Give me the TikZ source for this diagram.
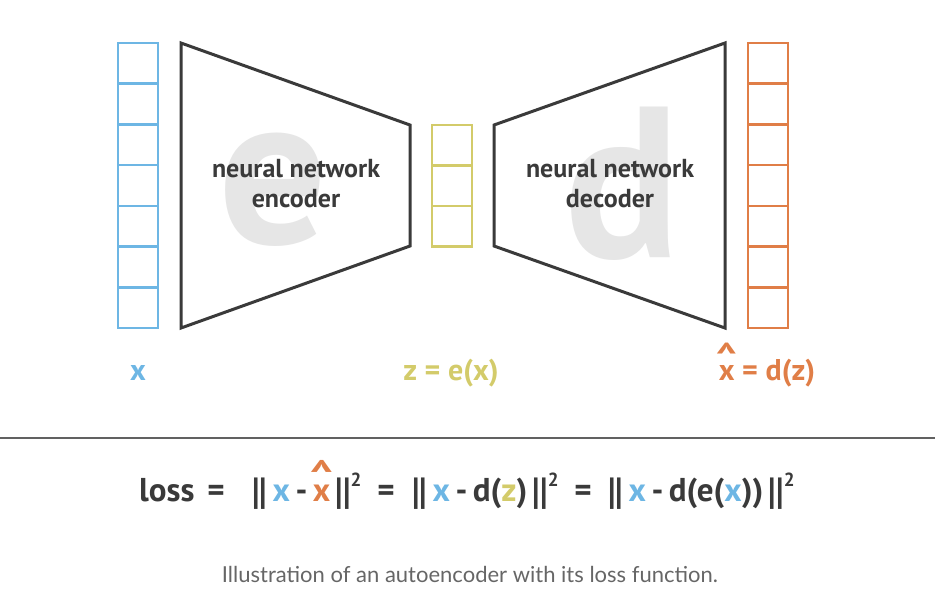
\documentclass[tikz,border=0pt]{standalone}
\usepackage{fontspec}
\usepackage{graphicx}
\setmainfont{PT Sans}
\newfontfamily\capfont{Lato}
\definecolor{cb}{HTML}{6DB6E4}
\definecolor{cy}{HTML}{D3CB6A}
\definecolor{co}{HTML}{E07E47}
\definecolor{ink}{HTML}{3A3A3A}
\definecolor{ghost}{HTML}{E6E6E6}
\newcommand\xh{\ooalign{x\cr\hidewidth\raisebox{0.36em}{\scalebox{1.4}[1.25]{\textasciicircum}}\hidewidth\cr}}
\newcommand\bars{\raisebox{-0.12em}{\scalebox{1}[1.15]{||}}}
\tikzset{
  cell/.style={line width=2.6pt},
  trap/.style={draw=ink, line width=3pt, line join=miter},
  big/.style={text=ghost, font=\bfseries\fontsize{215}{215}\selectfont, inner sep=0pt, anchor=base},
  nn/.style={text=ink, font=\bfseries\fontsize{26}{30}\selectfont, align=center, inner sep=0pt, anchor=base},
  lab/.style={font=\bfseries\fontsize{30}{34}\selectfont, inner sep=0pt, anchor=base},
  lossf/.style={inner sep=0pt, text=ink, font=\bfseries\fontsize{33}{38}\selectfont},
}
\begin{document}
\begin{tikzpicture}[x=1pt,y=-1pt]
\useasboundingbox (0,0) rectangle (948,590);
% ghost letters
\node[big] (ge) at (273,243) {e};
\node[big] (gd) at (622,257) {d};
% trapezoids
\draw[trap] (181,43) -- (410,125) -- (410,246) -- (181,328) -- cycle;
\draw[trap] (494,125) -- (725,43) -- (725,328) -- (494,246) -- cycle;
% columns
\foreach \i in {0,...,6} {
  \draw[cell, draw=cb] (118,{43+\i*40.7143}) rectangle (158,{43+(\i+1)*40.7143});
  \draw[cell, draw=co] (748,{43+\i*40.7143}) rectangle (788,{43+(\i+1)*40.7143});
}
\foreach \i in {0,...,2} {
  \draw[cell, draw=cy] (432,{125+\i*40.5}) rectangle (472,{125+(\i+1)*40.5});
}
% network texts
\node[nn] (enc1) at (296,177) {neural network};
\node[nn] (enc2) at (296,207) {encoder};
\node[nn] (dec1) at (610,177) {neural network};
\node[nn] (dec2) at (610,207) {decoder};
% labels
\node[lab, text=cb] (lx) at (138,380) {x};
\node[lab, text=cy] (lz) at (451,380) {z = e(x)};
\node[lab, text=co] (lxh) at (767,380) {\xh\ = d(z)};
% rule
\draw[draw=ink!80, line width=1.3pt] (0,438) coordinate (r1) -- (935,438) coordinate (r2);
% loss
\node[lossf, anchor=base west] (loss) at (139,501) {loss};
\node[lossf, anchor=base] (eq1) at (216,501) {=};
\node[lossf, anchor=base west] (g1) at (252,501) {\bars\,\textcolor{cb}{x}\,-\,\textcolor{co}{\xh}\,\bars\raisebox{0.45em}{\fontsize{19}{20}\selectfont 2}};
\node[lossf, anchor=base] (eq2) at (386,501) {=};
\node[lossf, anchor=base west] (g2) at (412,501) {\bars\,\textcolor{cb}{x}\,-\,d(\textcolor{cy}{z})\,\bars\raisebox{0.45em}{\fontsize{19}{20}\selectfont 2}};
\node[lossf, anchor=base] (eq3) at (583,501) {=};
\node[lossf, anchor=base west] (g3) at (608,501) {\bars\,\textcolor{cb}{x}\,-\,d(e(\textcolor{cb}{x}))\,\bars\raisebox{0.45em}{\fontsize{19}{20}\selectfont 2}};
% caption
\node[anchor=base, inner sep=0pt, text=black!60, font=\capfont\fontsize{22}{26}\selectfont] (cap) at (470,582)
 {Illustration of an autoencoder with its loss function.};
\end{tikzpicture}
\end{document}
